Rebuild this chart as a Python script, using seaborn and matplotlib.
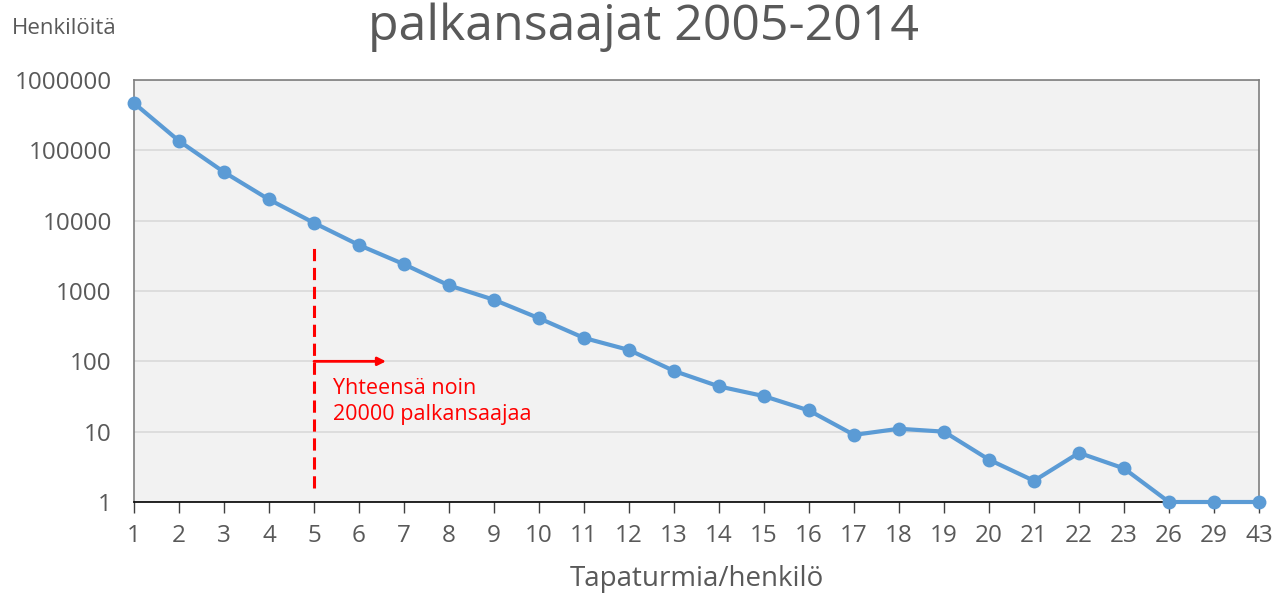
import matplotlib
matplotlib.use("Agg")
import matplotlib.pyplot as plt
import seaborn as sns

# accidents per person (categories) and number of persons
accidents = ["1", "2", "3", "4", "5", "6", "7", "8", "9", "10", "11", "12", "13",
             "14", "15", "16", "17", "18", "19", "20", "21", "22", "23", "26", "29", "43"]
persons = [470000, 136000, 49000, 20000, 9300, 4500, 2400, 1200, 750, 410, 215, 145,
           73, 44, 32, 20, 9, 11, 10, 4, 2, 5, 3, 1, 1, 1]
y_ticks = [1, 10, 100, 1000, 10000, 100000, 1000000]

sns.set_theme(style="white")
plt.rcParams["font.family"] = ["Open Sans", "DejaVu Sans"]

grey_text = "#595959"
fig = plt.figure(figsize=(12.82, 5.94), dpi=100)
ax = fig.add_axes([134 / 1282, 1 - 502 / 594, (1259 - 134) / 1282, (502 - 80) / 594])
ax.set_facecolor("#F2F2F2")

sns.lineplot(x=accidents, y=persons, ax=ax, sort=False, color="#5B9BD5",
             linewidth=3, marker="o", markersize=10, markeredgewidth=0, clip_on=False,
             zorder=5)

ax.set_yscale("log")
ax.set_ylim(1, 1000000)
ax.set_xlim(0, len(accidents) - 1)
ax.set_yticks(y_ticks)
ax.set_yticklabels([str(v) for v in y_ticks])
ax.minorticks_off()
ax.yaxis.grid(True, color="#D9D9D9", linewidth=1.2)
ax.set_axisbelow(True)

for side in ["left", "top", "right"]:
    ax.spines[side].set_color("#7F7F7F")
    ax.spines[side].set_linewidth(1.2)
ax.spines["bottom"].set_color("black")
ax.spines["bottom"].set_linewidth(1.2)

ax.tick_params(axis="x", bottom=True, length=8, width=1, color="#404040",
               labelsize=17.5, labelcolor=grey_text, pad=8)
ax.tick_params(axis="y", left=False, labelsize=17.5, labelcolor=grey_text, pad=10)

ax.set_xlabel("Tapaturmia/henkilö", fontsize=20, color=grey_text, labelpad=12)
ax.set_ylabel("")

# red annotation
ax.vlines(accidents.index("5"), 1.6, 4800, colors="red", linestyles=(0, (4, 2.2)),
          linewidth=2.2, zorder=4)
ax.annotate("", xy=(5.6, 100), xytext=(4, 100),
            arrowprops=dict(arrowstyle="-|>", color="red", lw=2, shrinkA=0, shrinkB=0,
                            mutation_scale=12))
ax.text(4.42, 58, "Yhteensä noin\n20000 palkansaajaa", color="red", fontsize=15.5,
        va="top", ha="left", linespacing=1.3)

fig.text(643 / 1282, 1 - 2 / 594, "palkansaajat 2005-2014", fontsize=36,
         color=grey_text, ha="center", va="top")
fig.text(12 / 1282, 1 - 28 / 594, "Henkilöitä", fontsize=16, color=grey_text,
         ha="left", va="center")

fig.savefig("out.png", dpi=100)
